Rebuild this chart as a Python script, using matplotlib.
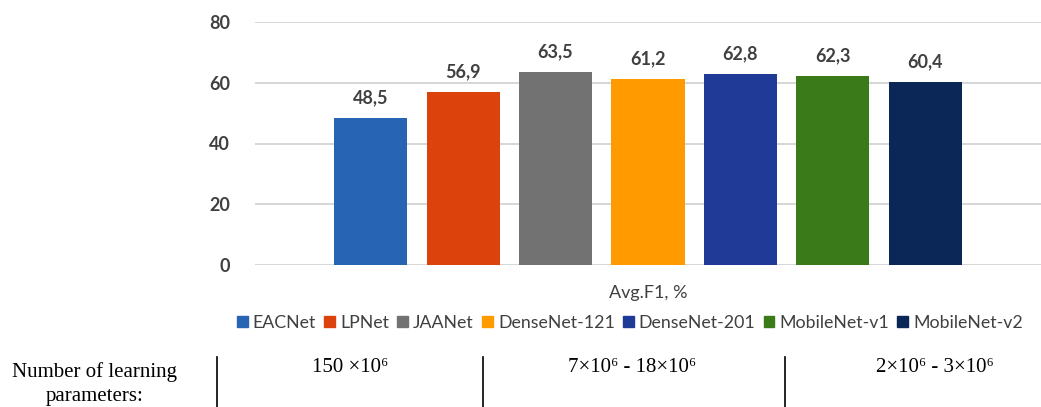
import matplotlib
matplotlib.use('Agg')
import matplotlib.pyplot as plt
from matplotlib.patches import Patch

models = ['EACNet', 'LPNet', 'JAANet', 'DenseNet-121', 'DenseNet-201', 'MobileNet-v1', 'MobileNet-v2']
f1 = [48.5, 56.9, 63.5, 61.2, 62.8, 62.3, 60.4]
colors = ['#2764b4', '#dc430c', '#727272', '#ff9a00', '#1f3a97', '#3a7a18', '#0a2757']
yticks = [0, 20, 40, 60, 80]
param_row = ['150 ×10⁶', '7×10⁶ - 18×10⁶', '2×10⁶ - 3×10⁶']
param_label = 'Number of learning\nparameters:'

sans = ['Lato', 'DejaVu Sans']
serif = ['Liberation Serif', 'DejaVu Serif']
txt = '#404040'

fig = plt.figure(figsize=(10.41, 4.07), dpi=100)
ax = fig.add_axes([255 / 1041, 1 - 265 / 407, 786 / 1041, 243 / 407])

x = list(range(len(models)))
ax.bar(x, f1, width=0.79, color=colors, zorder=3)
for xi, v in zip(x, f1):
    ax.text(xi, v + 3.8, f'{v:.1f}'.replace('.', ','), ha='center', va='bottom',
            fontsize=13, fontweight='bold', color=txt, family=sans)

ax.set_xlim(-1.25, 7.25)
ax.set_ylim(0, 80)
ax.set_yticks(yticks)
ax.set_yticklabels([str(t) for t in yticks], fontsize=13, fontweight='bold',
                   color=txt, family=sans)
ax.set_xticks([])
ax.tick_params(axis='y', length=0, pad=18)
ax.grid(axis='y', color='#d0d0d0', linewidth=1.2, zorder=0)
for s in ax.spines.values():
    s.set_visible(False)

fig.text(648 / 1041, 1 - 293 / 407, 'Avg.F1, %', ha='center', va='center',
         fontsize=13, color=txt, family=sans)

handles = [Patch(color=c, label=m) for m, c in zip(models, colors)]
fig.legend(handles=handles, loc='center', bbox_to_anchor=(630 / 1041, 1 - 323 / 407),
           ncol=7, frameon=False, prop={'family': sans, 'size': 12.8},
           handlelength=0.6, handleheight=0.6, handletextpad=0.3, columnspacing=0.45,
           labelcolor=txt, borderpad=0.1)

# parameter table under the chart
fig.text(95 / 1041, 1 - 384 / 407, param_label, ha='center', va='center',
         fontsize=15, family=serif, linespacing=1.3)
for cx, t in zip([350, 632, 935], param_row):
    fig.text(cx / 1041, 1 - 368 / 407, t, ha='center', va='center',
             fontsize=15, family=serif)
for lx in [217, 483, 785]:
    fig.add_artist(plt.Line2D([lx / 1041, lx / 1041], [0, 1 - 357 / 407],
                              color='black', linewidth=1.2))

fig.savefig('out.png', dpi=100)
